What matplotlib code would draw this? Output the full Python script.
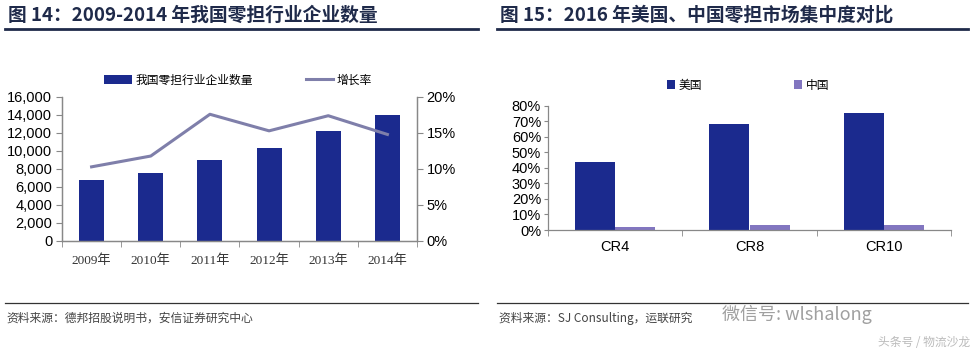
import matplotlib
matplotlib.use("Agg")
import matplotlib.pyplot as plt
import numpy as np
from matplotlib.lines import Line2D
from matplotlib.patches import Patch

plt.rcParams['font.family'] = ['Liberation Sans', 'Noto Sans CJK SC', 'DejaVu Sans']

# ---- data ----
years = ["2009年", "2010年", "2011年", "2012年", "2013年", "2014年"]
enterprise_count = [6800, 7600, 9000, 10300, 12200, 14000]
growth_rate = [10.3, 11.8, 17.6, 15.3, 17.4, 14.8]

cr_labels = ["CR4", "CR8", "CR10"]
us_share = [44, 68, 75]
cn_share = [2.1, 3.0, 3.4]

navy = "#1B2A8E"
line_col = "#7F7FAA"
lav = "#8276C0"
title_col = "#1F2A4A"

W, H = 976, 354
fig = plt.figure(figsize=(W / 100, H / 100), dpi=100)

def fx(px):
    return px / W

def fy(py):
    return 1 - py / H

cjk = ['Noto Sans CJK SC', 'DejaVu Sans']

# titles
fig.text(fx(8), fy(15), "图 14：2009-2014 年我国零担行业企业数量", fontsize=13.5, fontweight='bold',
         color=title_col, va='center', ha='left', family=cjk)
fig.text(fx(500), fy(15), "图 15：2016 年美国、中国零担市场集中度对比", fontsize=13.5, fontweight='bold',
         color=title_col, va='center', ha='left', family=cjk)
fig.add_artist(Line2D([fx(5), fx(478)], [fy(28.5), fy(28.5)], color=title_col, lw=2))
fig.add_artist(Line2D([fx(497), fx(968)], [fy(28.5), fy(28.5)], color=title_col, lw=2))

# bottom source lines
fig.add_artist(Line2D([fx(5), fx(478)], [fy(303), fy(303)], color="#333333", lw=0.9))
fig.add_artist(Line2D([fx(497), fx(968)], [fy(303), fy(303)], color="#333333", lw=0.9))
fig.text(fx(6), fy(318), "资料来源：德邦招股说明书，安信证券研究中心", fontsize=8.5, style='italic',
         color="#444444", va='center', ha='left', family=cjk)
fig.text(fx(499), fy(318), "资料来源：SJ Consulting，运联研究", fontsize=8.5, style='italic',
         color="#444444", va='center', ha='left', family=cjk)
fig.text(fx(722), fy(314), "微信号: wlshalong", fontsize=13, color="#888888", alpha=0.8,
         va='center', ha='left', family=cjk)
fig.text(fx(970), fy(343), "头条号 / 物流沙龙", fontsize=8.5, color="#BBBBBB",
         va='center', ha='right', family=cjk)

# ---- left chart ----
ax1 = fig.add_axes([fx(62), fy(241), fx(417 - 62), (241 - 97) / H])
x = np.arange(len(years))
ax1.bar(x, enterprise_count, width=0.42, color=navy, zorder=2)
ax1.set_xlim(-0.5, len(years) - 0.5)
ax1.set_ylim(0, 16000)
ax1.set_yticks(np.arange(0, 16001, 2000))
ax1.set_yticklabels([f"{v:,}" for v in range(0, 16001, 2000)], fontsize=10.5)
ax1.set_xticks(x)
ax1.set_xticklabels(years, fontsize=9.5, family=['Liberation Serif', 'Noto Sans CJK SC'], color="#333333")
ax1.set_xticks(np.arange(-0.5, len(years), 1), minor=True)
ax1.tick_params(axis='x', which='major', length=0, pad=10)
ax1.tick_params(axis='x', which='minor', length=4, color="#888888")
ax1.tick_params(axis='y', length=4, color="#888888", pad=3)
ax1.spines['top'].set_visible(False)
for s in ['left', 'bottom', 'right']:
    ax1.spines[s].set_color("#888888")
    ax1.spines[s].set_linewidth(0.9)

ax1r = ax1.twinx()
ax1r.plot(x, growth_rate, color=line_col, lw=2.2, zorder=3)
ax1r.set_ylim(0, 20)
ax1r.set_yticks(np.arange(0, 21, 5))
ax1r.set_yticklabels([f"{v}%" for v in range(0, 21, 5)], fontsize=10.5)
ax1r.tick_params(axis='y', length=4, color="#888888", pad=3)
ax1r.spines['top'].set_visible(False)
for s in ['left', 'bottom', 'right']:
    ax1r.spines[s].set_color("#888888")
    ax1r.spines[s].set_linewidth(0.9)

h1 = [Patch(facecolor=navy), Line2D([0], [0], color=line_col, lw=2.2)]
fig.legend(h1, ["我国零担行业企业数量", "增长率"], loc='center', bbox_to_anchor=(fx(238), fy(80)),
           ncol=2, frameon=False, prop={'family': cjk, 'size': 8.5}, handlelength=2.3,
           handleheight=0.8, columnspacing=4.5, handletextpad=0.3)

# ---- right chart ----
ax2 = fig.add_axes([fx(548), fy(230), fx(951 - 548), (230 - 105.7) / H])
g = np.arange(len(cr_labels))
bw = 0.3
ax2.bar(g - bw / 2, us_share, width=bw, color=navy, zorder=2)
ax2.bar(g + bw / 2, cn_share, width=bw, color=lav, zorder=2)
ax2.set_xlim(-0.5, len(cr_labels) - 0.5)
ax2.set_ylim(0, 80)
ax2.set_yticks(np.arange(0, 81, 10))
ax2.set_yticklabels([f"{v}%" for v in range(0, 81, 10)], fontsize=10.5)
ax2.set_xticks(g)
ax2.set_xticklabels(cr_labels, fontsize=10.5)
ax2.set_xticks(np.arange(-0.5, len(cr_labels), 1), minor=True)
ax2.tick_params(axis='x', which='major', length=0, pad=7)
ax2.tick_params(axis='x', which='minor', length=4, color="#888888")
ax2.tick_params(axis='y', length=3, color="#888888", pad=2)
ax2.spines['top'].set_visible(False)
ax2.spines['right'].set_visible(False)
for s in ['left', 'bottom']:
    ax2.spines[s].set_color("#888888")
    ax2.spines[s].set_linewidth(0.9)

h2 = [Patch(facecolor=navy), Patch(facecolor=lav)]
fig.legend(h2, ["美国", "中国"], loc='center', bbox_to_anchor=(fx(748), fy(85)),
           ncol=2, frameon=False, prop={'family': cjk, 'size': 8.5}, handlelength=0.7,
           handleheight=0.7, columnspacing=7.8, handletextpad=0.3)

fig.savefig("out.png", dpi=100)
